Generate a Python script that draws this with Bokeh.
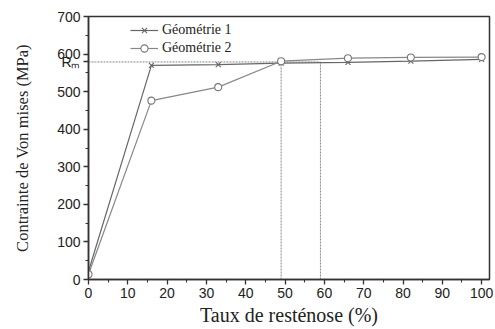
from bokeh.plotting import figure
from bokeh.models import Range1d, Legend, LegendItem, FixedTicker
from bokeh.embed import file_html
from bokeh.resources import INLINE

# data
taux = [0, 16, 33, 49, 66, 82, 100]
geo1 = [22, 570, 572, 576, 578, 581, 586]
geo2 = [14, 476, 512, 581, 589, 591, 592]
rm_value = 579
rm_label = "Rₘ"
rm_x = [49, 59]
x_ticks = [0, 10, 20, 30, 40, 50, 60, 70, 80, 90, 100]
y_ticks = [0, 100, 200, 300, 400, 500, 600, 700]

p = figure(width=495, height=329, output_backend="svg", toolbar_location=None,
           x_range=Range1d(0, 102), y_range=Range1d(0, 700),
           min_border_left=88, min_border_right=6, min_border_top=16, min_border_bottom=50)
p.background_fill_color = "white"
p.border_fill_color = "white"
p.grid.visible = False
p.outline_line_color = "#333333"
p.outline_line_width = 1.5

# reference lines
p.line([0, rm_x[1]], [rm_value, rm_value], line_color="#888888", line_dash="2 1", line_width=1)
for xv in rm_x:
    p.line([xv, xv], [0, rm_value], line_color="#888888", line_dash="2 1", line_width=1)

l1 = p.line(taux, geo1, line_color="#666666", line_width=1.2)
s1 = p.scatter(taux, geo1, marker="x", size=7, line_color="#666666", line_width=1.1)
l2 = p.line(taux, geo2, line_color="#888888", line_width=1.2)
s2 = p.scatter(taux, geo2, marker="circle", size=7, line_color="#777777", fill_color="white", line_width=1.1)

for ax in (p.xaxis[0], p.yaxis[0]):
    ax.axis_line_width = 1.5
    ax.axis_line_color = "#333333"
    ax.major_tick_line_color = "#333333"
    ax.minor_tick_line_color = "#333333"
    ax.major_tick_line_width = 1.3
    ax.minor_tick_line_width = 1.1
    ax.major_tick_out = 5
    ax.major_tick_in = 0
    ax.minor_tick_out = 3
    ax.minor_tick_in = 0
    ax.major_label_text_font = "Liberation Sans"
    ax.major_label_text_font_size = "14px"
    ax.major_label_text_color = "#222222"
    ax.major_label_standoff = 3
    ax.axis_label_text_font = "Liberation Serif"
    ax.axis_label_text_font_style = "normal"
    ax.axis_label_text_color = "#222222"

p.xaxis[0].axis_label_text_font_size = "20px"
p.yaxis[0].axis_label_text_font_size = "16.5px"
p.xaxis[0].ticker = FixedTicker(ticks=x_ticks, minor_ticks=[v + 5 for v in x_ticks[:-1]])
p.yaxis[0].ticker = FixedTicker(ticks=y_ticks + [rm_value], minor_ticks=[v + 50 for v in y_ticks[:-1]])
p.yaxis[0].major_label_overrides = {rm_value: rm_label}
p.xaxis[0].axis_label = "Taux de resténose (%)"
p.yaxis[0].axis_label = "Contrainte de Von mises (MPa)"
p.xaxis[0].axis_label_standoff = 3
p.yaxis[0].axis_label_standoff = 22

legend = Legend(items=[LegendItem(label="Géométrie 1", renderers=[l1, s1]),
                       LegendItem(label="Géométrie 2", renderers=[l2, s2])],
                location=(42, 222), padding=0, spacing=0, margin=0,
                border_line_color=None, background_fill_alpha=0,
                label_text_font="Liberation Serif", label_text_font_size="14px",
                label_text_color="#222222", glyph_width=28, label_standoff=4, label_height=18,
                glyph_height=18)
p.add_layout(legend)

open("out.html", "w").write(file_html(p, INLINE))
